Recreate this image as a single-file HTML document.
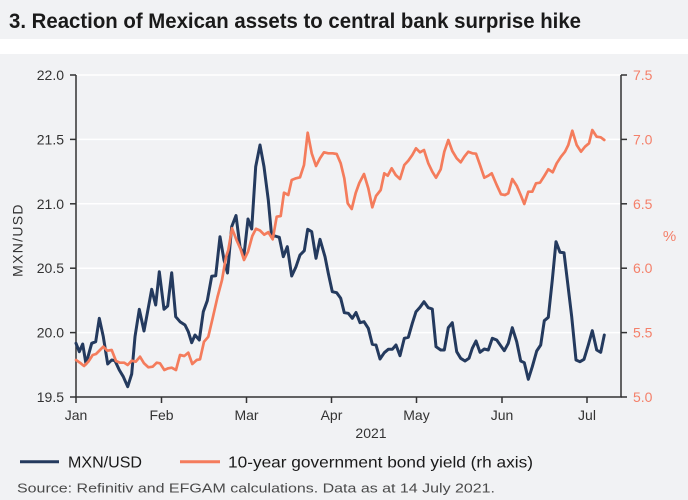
<!DOCTYPE html>
<html>
<head>
<meta charset="utf-8">
<style>
html,body{margin:0;padding:0;background:#fff;}
svg{display:block;}
text{font-family:"Liberation Sans",sans-serif;}
</style>
</head>
<body>
<svg width="688" height="500" viewBox="0 0 688 500" xmlns="http://www.w3.org/2000/svg">
  <!-- backgrounds -->
  <rect x="0" y="0" width="688" height="39" fill="#f1f2f4"/>
  <rect x="0" y="39" width="688" height="15" fill="#ffffff"/>
  <rect x="0" y="54" width="688" height="446" fill="#f1f2f4"/>

  <!-- title -->
  <text x="9" y="28" font-size="21" font-weight="bold" fill="#1a1a1a" textLength="572" lengthAdjust="spacingAndGlyphs">3. Reaction of Mexican assets to central bank surprise hike</text>

  <!-- gridlines -->
  <g stroke="#ffffff" stroke-width="1.5">
    <line x1="76" y1="75" x2="621" y2="75"/>
    <line x1="76" y1="139.4" x2="621" y2="139.4"/>
    <line x1="76" y1="203.8" x2="621" y2="203.8"/>
    <line x1="76" y1="268.2" x2="621" y2="268.2"/>
    <line x1="76" y1="332.6" x2="621" y2="332.6"/>
  </g>

  <!-- axes -->
  <g stroke="#333333" stroke-width="1.5" fill="none">
    <line x1="76" y1="75" x2="76" y2="397"/>
    <line x1="621" y1="75" x2="621" y2="397"/>
    <line x1="75.25" y1="397" x2="621.75" y2="397"/>
    <line x1="70" y1="75" x2="76" y2="75"/>
    <line x1="70" y1="139.4" x2="76" y2="139.4"/>
    <line x1="70" y1="203.8" x2="76" y2="203.8"/>
    <line x1="70" y1="268.2" x2="76" y2="268.2"/>
    <line x1="70" y1="332.6" x2="76" y2="332.6"/>
    <line x1="70" y1="397" x2="76" y2="397"/>
    <line x1="621" y1="75" x2="627" y2="75"/>
    <line x1="621" y1="139.4" x2="627" y2="139.4"/>
    <line x1="621" y1="203.8" x2="627" y2="203.8"/>
    <line x1="621" y1="268.2" x2="627" y2="268.2"/>
    <line x1="621" y1="332.6" x2="627" y2="332.6"/>
    <line x1="621" y1="397" x2="627" y2="397"/>
    <line x1="76" y1="397" x2="76" y2="403"/>
    <line x1="161.5" y1="397" x2="161.5" y2="403"/>
    <line x1="246.5" y1="397" x2="246.5" y2="403"/>
    <line x1="331.5" y1="397" x2="331.5" y2="403"/>
    <line x1="416.5" y1="397" x2="416.5" y2="403"/>
    <line x1="502" y1="397" x2="502" y2="403"/>
    <line x1="587" y1="397" x2="587" y2="403"/>
  </g>

  <!-- left tick labels -->
  <g font-size="14" fill="#333333" text-anchor="end">
    <text x="64" y="80">22.0</text>
    <text x="64" y="144.4">21.5</text>
    <text x="64" y="208.8">21.0</text>
    <text x="64" y="273.2">20.5</text>
    <text x="64" y="337.6">20.0</text>
    <text x="64" y="402">19.5</text>
  </g>
  <!-- right tick labels -->
  <g font-size="14" fill="#f4806a" text-anchor="start">
    <text x="633" y="80">7.5</text>
    <text x="633" y="144.4">7.0</text>
    <text x="633" y="208.8">6.5</text>
    <text x="633" y="273.2">6.0</text>
    <text x="633" y="337.6">5.5</text>
    <text x="633" y="402">5.0</text>
  </g>
  <text x="669.5" y="241" font-size="15" fill="#f4806a" text-anchor="middle">%</text>

  <!-- left axis title -->
  <text x="0" y="0" font-size="14" fill="#333333" text-anchor="middle" letter-spacing="1.3" transform="translate(22.5,240) rotate(-90)">MXN/USD</text>

  <!-- x labels -->
  <g font-size="14" fill="#333333" text-anchor="middle">
    <text x="76" y="420">Jan</text>
    <text x="161.5" y="420">Feb</text>
    <text x="246.5" y="420">Mar</text>
    <text x="331.5" y="420">Apr</text>
    <text x="416.5" y="420">May</text>
    <text x="502" y="420">Jun</text>
    <text x="587" y="420">Jul</text>
    <text x="371" y="438">2021</text>
  </g>

  <!-- series: MXN/USD -->
  <polyline fill="none" stroke="#243a5e" stroke-width="3" stroke-linejoin="round" stroke-linecap="round" points="
76,343.3 79.3,351.7 82.7,344 86,364 91.7,343.3 95.7,341.7 99.3,318.3 103.3,336.7 107.7,364 111.7,360 115,360.7 119.3,370 123.3,376.7 127.7,386.7 131.7,374 135,336.7 139.3,309.3 144,331 147.3,313.3 151.7,289.3 155.7,305 159.3,271.7 164,309.3 167.7,306 171.7,272.7 175.7,316.7 180,321.7 185,325 188.3,331.7 191.7,342.7 195,335 199.3,340 203.3,311.7 207.3,300.7 211.7,276.3 215.7,275.8 220,236.7 224,260 227.5,273 231.7,226.7 236,215.5 240,247 244,255 248,219 251.7,229 255.7,166.7 260,145 264,166.7 268.3,200 271.7,236.7 275,236 279.3,237.3 283.3,256.7 287.3,246.7 291.7,276 296,266.7 300,255 304.3,250.7 307.7,229.3 311.7,231.7 316,258.3 320,239.3 325,256.7 328.3,273.3 332.3,291.7 336.7,292.7 340.7,298.3 344.3,312.7 348.3,313.3 352.3,318.3 356,312.5 360,322.7 364,321.7 368.3,328.3 372.3,344.3 376,345 380,359 384.3,352.7 388.3,349.3 392.3,349.3 396,345 400,355.7 404.3,338.3 408.3,337.3 412.3,323.3 416,311.7 420,307.3 424,301.7 428.3,307.7 432.3,309 436,346.7 440.7,350 444.3,350 448.3,327.7 452.3,322.7 456.7,351.7 460.7,358.3 465,361 469,358.3 472.3,348.3 476,341 480,352.3 484.3,349 488.3,350 492.3,338.3 496.7,340 500.7,345.7 504.3,350.7 508.3,343.3 512.3,327.7 516.7,341.7 520.7,361 524.3,362.7 528.3,379.3 532.3,366.7 536.7,351 540.7,345 544.3,320.7 548.3,317.3 552.3,280 556,241.7 560,252.3 564,252.7 567.7,283.3 571.7,316.7 576,360 580,361.7 584,359.3 588.3,345 592.3,330.7 596.7,350 600.7,352.3 604.3,335"/>

  <!-- series: 10-year yield -->
  <polyline fill="none" stroke="#f47c5c" stroke-width="2.7" stroke-linejoin="round" stroke-linecap="round" points="
76,360 80,362.7 84,366 88.3,361.7 92.7,355 96,354 100,350 103.3,346.7 107.3,350.7 111.7,350 116,361 120,362.7 124.3,362.7 127.7,365 131.7,360.7 135.7,361.7 140,356.7 144,363.3 148.3,367.3 152.7,366.7 156.7,362.7 160,363.3 164.3,370 168.3,368.3 171.7,367.7 176,370 180,355 184.3,356 188.3,352.7 192.3,364 196.7,360 200,359.3 204,341.7 208.3,336.7 212.7,318 217.5,297 222,280 226,257 228.3,250 232,228.3 236.7,240.5 240.5,249 244,260 248,251.7 252.3,236 256,228.8 260,230.5 264.2,234.7 268.3,232.2 272.7,239.3 276.7,216.7 280.7,216 284,192.7 288.3,195 291.7,180 296,178.3 300,177.3 304,165 307.7,132.7 311.7,153.3 316,166 320,158.3 324,152.3 328.3,153.3 332.7,153.3 336.7,154 340.7,163.3 344.3,178.3 347.7,203.3 351.7,209 355.7,193 359.3,183 364,174 368.3,188.3 372.3,207.3 376,196 380.7,190 384.3,173.3 387.7,175.7 391.7,168.3 395.7,175 400,179 404.3,165 408.3,160.7 412.3,155 416,148.3 420,152.3 424,150 428.3,163.3 432.3,171.7 436,177.7 440.7,169.3 444.3,151.7 448.3,140 452.3,151 456.7,158.3 460.7,162.3 464.3,156.7 468.3,151.7 472.3,153.3 476,153.7 480,165 484.3,177.7 488.3,175.7 491.7,173.3 496.7,185 501,194.3 505,195 508.3,193.3 512.3,179 516.7,185.7 520.7,195 524.3,204 528.3,191.7 532.3,191.7 536,183.3 540,182.7 544.3,176 548.3,169.3 552.7,172.3 556.7,163.3 561,156.7 565,151.7 568.3,145 572.3,130.7 576.7,145 581,151.7 585,146.7 589,143.3 592.3,130 596.7,136.7 600.7,137.3 604.3,140"/>

  <!-- legend -->
  <line x1="20" y1="461.7" x2="59" y2="461.7" stroke="#243a5e" stroke-width="3"/>
  <text x="68" y="467.5" font-size="16" fill="#1a1a1a" textLength="74" lengthAdjust="spacingAndGlyphs">MXN/USD</text>
  <line x1="180" y1="461.7" x2="220" y2="461.7" stroke="#f47c5c" stroke-width="3"/>
  <text x="228" y="467.5" font-size="16" fill="#1a1a1a" textLength="305" lengthAdjust="spacingAndGlyphs">10-year government bond yield (rh axis)</text>

  <!-- source -->
  <text x="17" y="492.5" font-size="13" fill="#4a4a4a" textLength="478" lengthAdjust="spacingAndGlyphs">Source: Refinitiv and EFGAM calculations. Data as at 14 July 2021.</text>
</svg>
</body>
</html>
